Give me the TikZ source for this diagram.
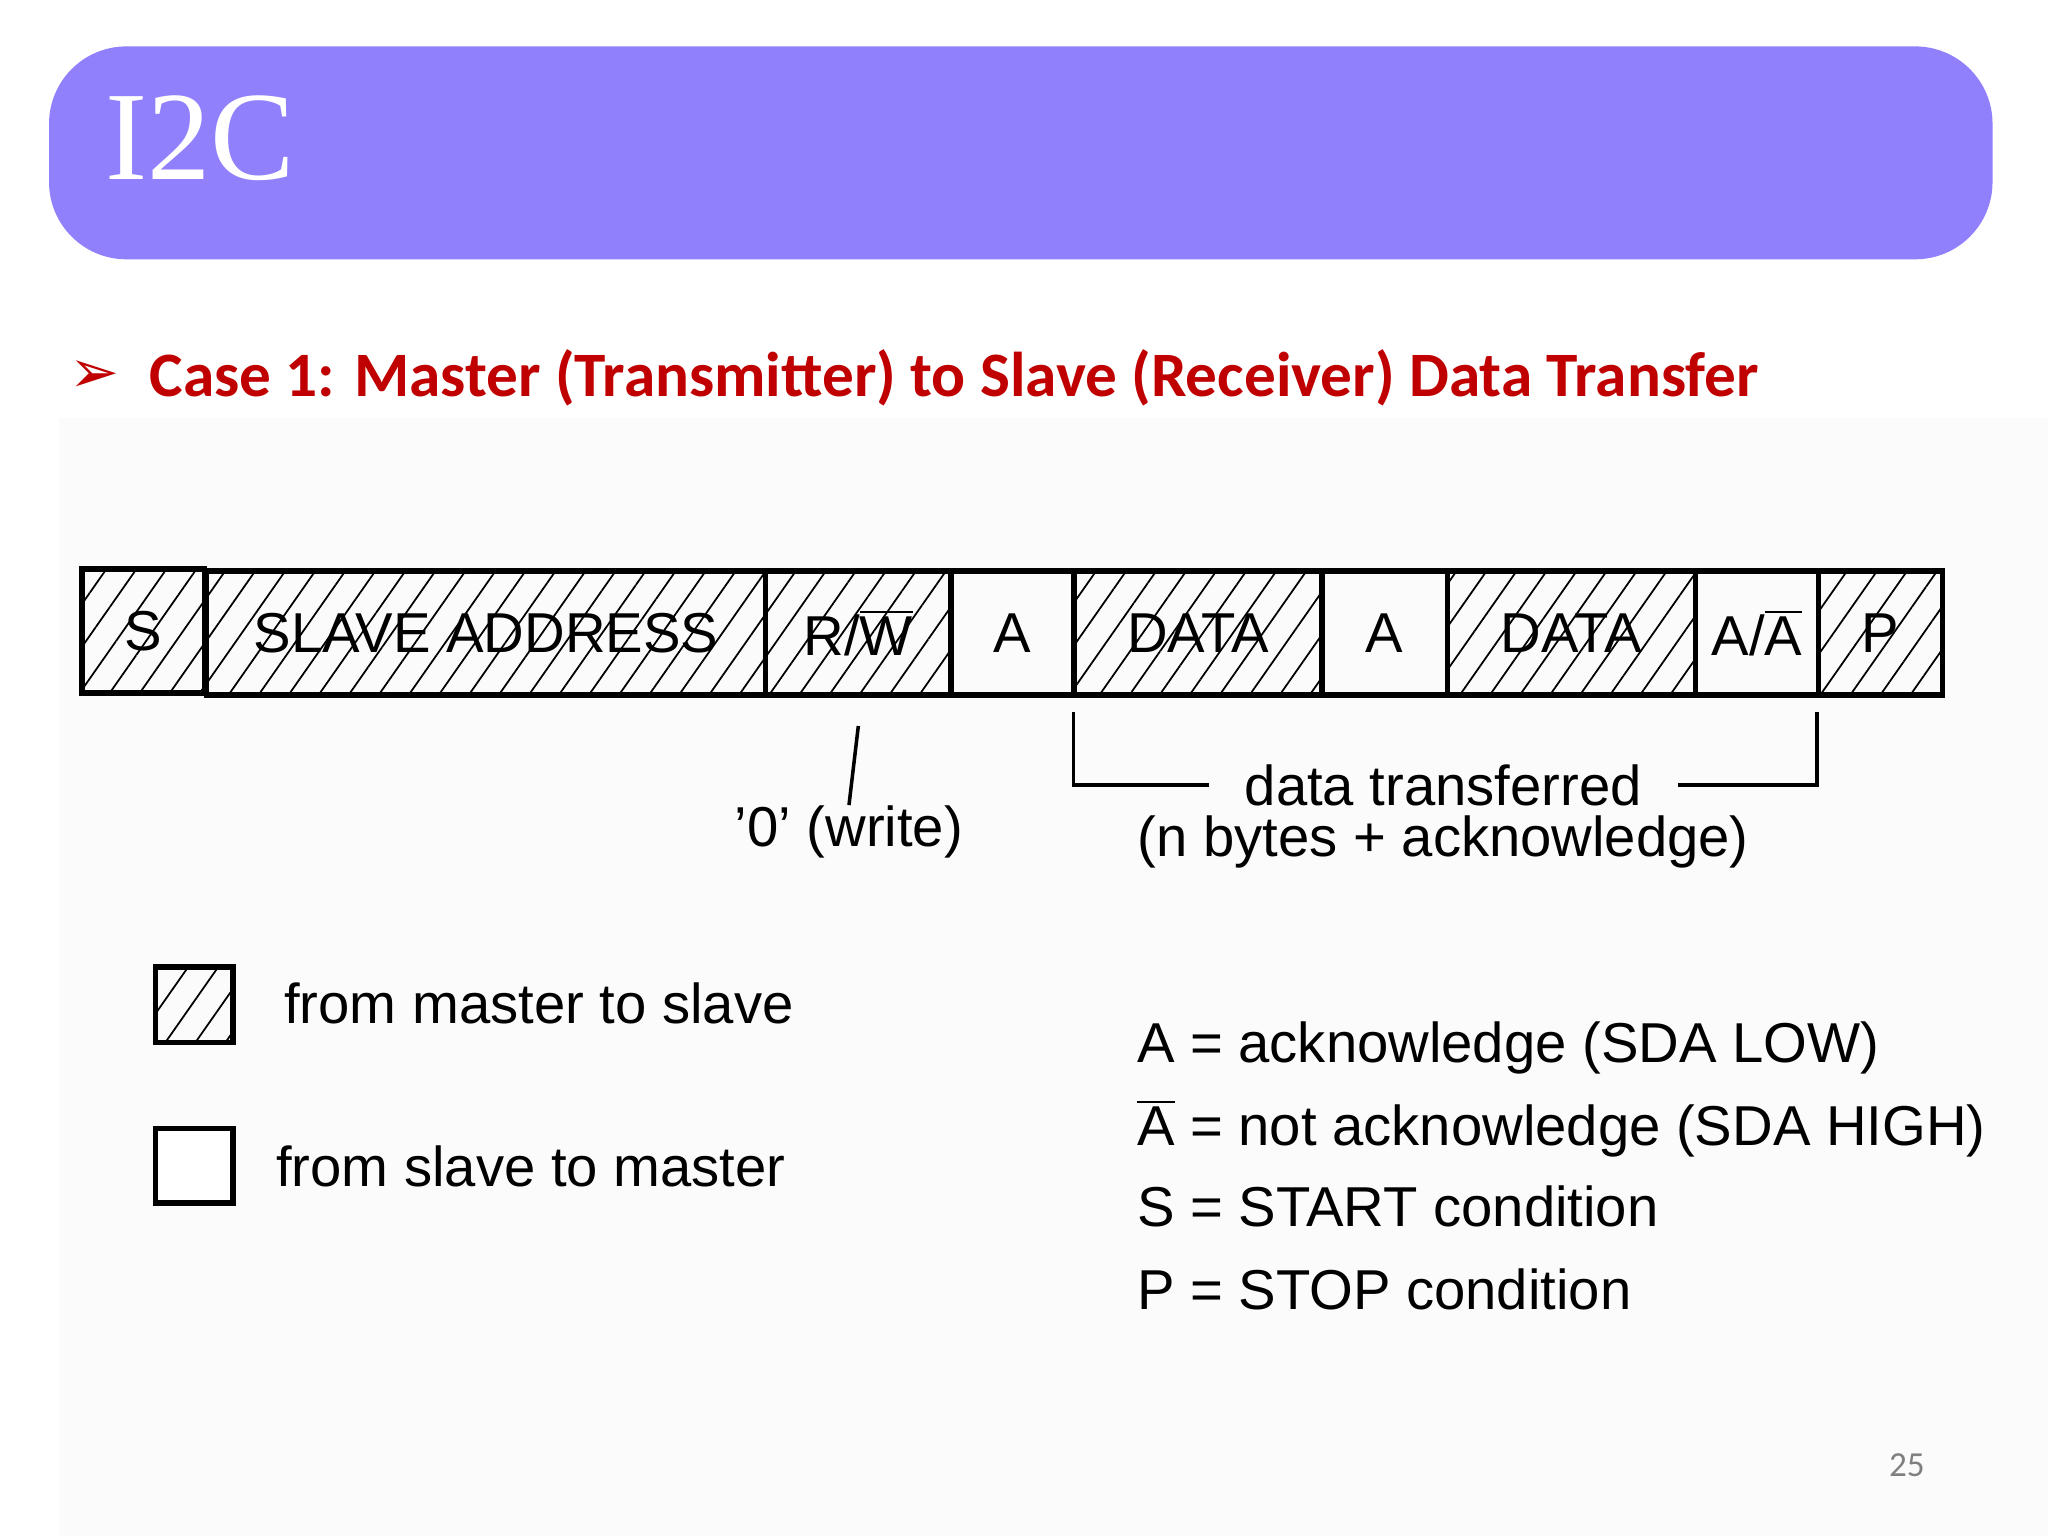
\documentclass[tikz,border=0pt]{standalone}
\usepackage{fontspec}
\setmainfont{Liberation Sans}
\newfontfamily\carl{Carlito}
\newfontfamily\tser{Liberation Serif}
\newfontfamily\djv{DejaVu Sans}
\usetikzlibrary{patterns.meta}
\definecolor{titlebar}{HTML}{9080FC}
\definecolor{redtxt}{HTML}{C00000}
\newcommand{\ovl}[1]{$\overline{\hbox{#1}}$}
\tikzset{
  fld/.style={draw=black,line width=1.6pt,minimum height=95*0.01306cm,inner sep=0pt,font=\fontsize{16}{18}\selectfont,anchor=north west},
  hat/.style={fld,pattern={Lines[angle=55,distance=7pt,line width=0.5pt]}},
  lbl/.style={font=\fontsize{16}{19}\selectfont,inner sep=0pt},
  conn/.style={line width=1pt}
}
\begin{document}
\begin{tikzpicture}[x=0.01306cm,y=-0.01306cm]
\useasboundingbox (0,0) rectangle (1568,1176);
\fill[white] (0,0) rectangle (1568,1176);
\fill[gray!3] (45,320) rectangle (1568,1176);
\node[fill=titlebar,rounded corners=22pt,minimum width=1488*0.01306cm,minimum height=163*0.01306cm,anchor=north west,inner sep=0pt] (bar) at (37,35) {};
\node[anchor=west,text=white,font=\tser\fontsize{36}{40}\selectfont,inner sep=0pt] (title) at (80,106) {I2C};
\node[text=redtxt,font=\djv\fontsize{17}{20}\selectfont,inner sep=0pt] (bul) at (72,288) {➢};
\node[anchor=west,text=redtxt,font=\carl\bfseries\fontsize{18}{22}\selectfont,inner sep=0pt] (head) at (114,289) {Case 1: Master (Transmitter) to Slave (Receiver) Data Transfer};
% frame fields
\node[hat,minimum width=94*0.01306cm] (s) at (62,435) {S};
\node[hat,minimum width=428*0.01306cm] (sa) at (156,435) {SLAVE ADDRESS};
\node[hat,minimum width=142*0.01306cm] (rw) at (584,435) {R/\ovl{W}};
\node[fld,minimum width=94*0.01306cm] (a1) at (726,435) {A};
\node[hat,minimum width=190*0.01306cm] (d1) at (820,435) {DATA};
\node[fld,minimum width=96*0.01306cm] (a2) at (1010,435) {A};
\node[hat,minimum width=190*0.01306cm] (d2) at (1106,435) {DATA};
\node[fld,minimum width=94*0.01306cm] (an) at (1296,435) {A/\ovl{A}};
\node[hat,minimum width=95*0.01306cm] (p) at (1390,435) {P};
% annotations
\node[lbl] (wr) at (650,637) {'0' (write)};
\draw[conn] ([yshift=-8pt]rw.south) -- (wr.north);
\node[lbl] (dt) at (1105,601) {data transferred};
\node[lbl] (nb) at (1105,645) {(n bytes + acknowledge)};
\coordinate (bl) at (822,545);
\coordinate (br) at (1391,545);
\draw[conn] (bl) |- ([xshift=-10pt]dt.west);
\draw[conn] (br) |- ([xshift=10pt]dt.east);
% legend
\node[draw,line width=1.6pt,pattern={Lines[angle=55,distance=7pt,line width=0.5pt]},minimum width=59*0.01306cm,minimum height=58*0.01306cm,anchor=north west] (lh) at (117,738) {};
\node[lbl,anchor=west] (lht) at (217,768) {from master to slave};
\node[draw,line width=1.6pt,fill=white,minimum width=59*0.01306cm,minimum height=57*0.01306cm,anchor=north west] (lw) at (117,862) {};
\node[lbl,anchor=west] (lwt) at (211,893) {from slave to master};
\node[lbl,anchor=west] (k1) at (870,802) {A = acknowledge (SDA LOW)};
\node[lbl,anchor=west] (k2) at (870,864) {\ovl{A} = not acknowledge (SDA HIGH)};
\node[lbl,anchor=west] (k3) at (870,924) {S = START condition};
\node[lbl,anchor=west] (k4) at (870,987) {P = STOP condition};
\node[text=gray,font=\carl\fontsize{10}{12}\selectfont] (pg) at (1460,1122) {25};
\end{tikzpicture}
\end{document}
